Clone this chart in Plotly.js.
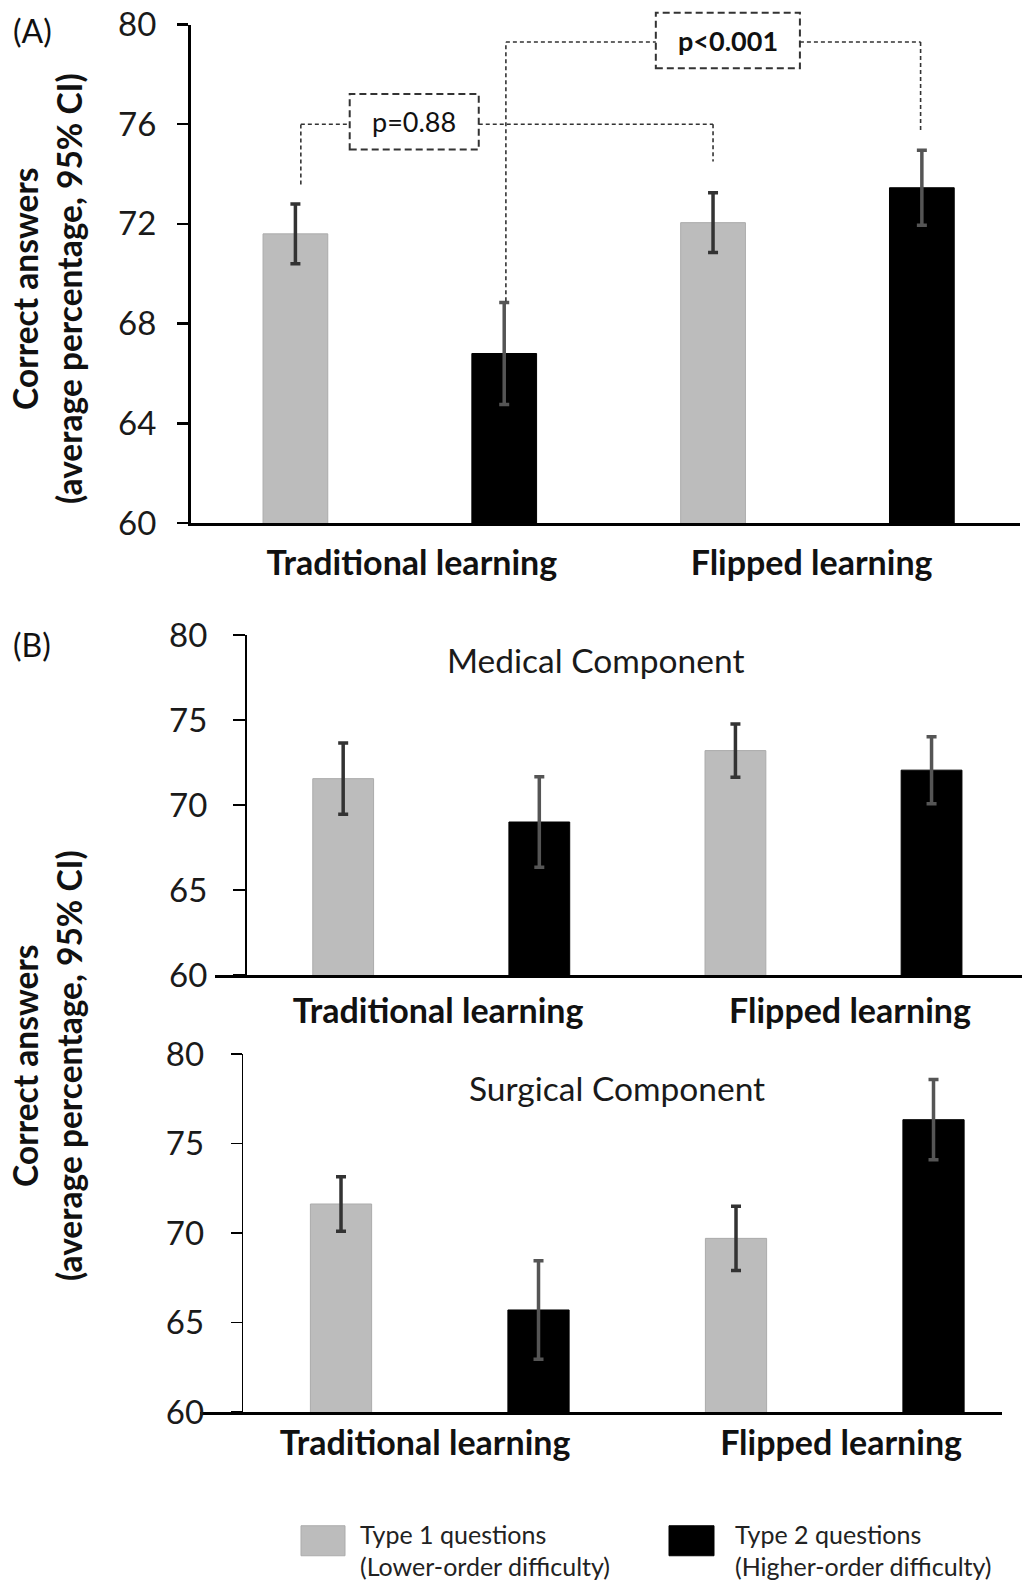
<!DOCTYPE html>
<html>
<head>
<meta charset="utf-8">
<script src="https://cdn.plot.ly/plotly-3.0.1.min.js"></script>
<style>
  html, body { margin: 0; padding: 0; background: #fff; }
  #chart { width: 1024px; height: 1589px; }
</style>
</head>
<body>
<div id="chart"></div>
<script>
// ---------------- data ----------------
const categories = ['Traditional learning', 'Flipped learning'];
const seriesNames = ['Type 1 questions<br>(Lower-order difficulty)', 'Type 2 questions<br>(Higher-order difficulty)'];

// Panel A: overall
const type1Overall = [71.6, 72.05];
const type1OverallCI = [1.2, 1.2];
const type2Overall = [66.8, 73.45];
const type2OverallCI = [2.05, 1.5];

// Panel B: medical component
const type1Medical = [71.55, 73.2];
const type1MedicalCI = [2.1, 1.57];
const type2Medical = [69.0, 72.05];
const type2MedicalCI = [2.66, 1.97];

// Panel B: surgical component
const type1Surgical = [71.62, 69.7];
const type1SurgicalCI = [1.52, 1.8];
const type2Surgical = [65.7, 76.33];
const type2SurgicalCI = [2.75, 2.24];

const yTicksA = [60, 64, 68, 72, 76, 80];
const yTicksB = [60, 65, 70, 75, 80];
const pValues = ['p=0.88', 'p<0.001'];
const panelLabels = ['(A)', '(B)'];
const componentTitles = ['Medical Component', 'Surgical Component'];
const yTitle = 'Correct answers<br>(average percentage, 95% CI)';

// ---------------- helpers ----------------
const W = 1024, H = 1589;
const px = v => v / W;            // pixel x -> paper
const py = v => 1 - v / H;        // pixel y -> paper

const FONT = 'Lato, "Open Sans", sans-serif';
const GRAY = '#bcbcbc';
const BLACK = '#000000';

function barTrace(y, ci, idx, xa, ya, showlegend) {
  return {
    type: 'bar',
    x: categories,
    y: y,
    name: seriesNames[idx],
    legendgroup: 't' + idx,
    legend: idx === 0 ? 'legend' : 'legend2',
    showlegend: showlegend,
    xaxis: xa, yaxis: ya,
    marker: {
      color: idx === 0 ? GRAY : BLACK,
      line: { color: idx === 0 ? '#ababab' : BLACK, width: 1 }
    },
    error_y: {
      type: 'data', array: ci, visible: true,
      color: idx === 0 ? '#333333' : '#555555',
      thickness: 3.5, width: 5
    },
    hoverinfo: 'skip'
  };
}

const traces = [
  barTrace(type1Overall, type1OverallCI, 0, 'x', 'y', true),
  barTrace(type2Overall, type2OverallCI, 1, 'x', 'y', true),
  barTrace(type1Medical, type1MedicalCI, 0, 'x2', 'y2', false),
  barTrace(type2Medical, type2MedicalCI, 1, 'x2', 'y2', false),
  barTrace(type1Surgical, type1SurgicalCI, 0, 'x3', 'y3', false),
  barTrace(type2Surgical, type2SurgicalCI, 1, 'x3', 'y3', false)
];

const tickFont = { family: FONT, size: 33, color: '#1a1a1a' };
const catFont = { family: FONT, size: 34, color: '#111', weight: 700 };

// label placement: small per-panel nudges of the category labels (as in the reference)
function xAxis(domain, anchor, range, lw, standoff, nudges) {
  return {
    domain: domain, anchor: anchor, type: 'category', range: range,
    tickmode: 'array', tickvals: categories.map((c, i) => i + nudges[i]), ticktext: categories,
    showline: true, linecolor: '#000', linewidth: lw,
    ticks: '', showgrid: false, zeroline: false,
    tickfont: catFont, ticklabelstandoff: standoff, automargin: false, fixedrange: true
  };
}
function yAxis(domain, ticks, lw, tw, tl, standoff, extra) {
  return Object.assign({
    domain: domain, range: [60, 80], tickmode: 'array', tickvals: ticks,
    showline: true, linecolor: '#000', linewidth: lw,
    ticks: 'outside', ticklen: tl, tickwidth: tw, tickcolor: '#000',
    showgrid: false, zeroline: false,
    tickfont: tickFont, ticklabelstandoff: standoff, automargin: false, fixedrange: true
  }, extra || {});
}
function legendBox(xPix) {
  return {
    orientation: 'h', x: px(xPix), y: 0, xanchor: 'left', yanchor: 'bottom',
    itemwidth: 74, valign: 'top',
    font: { family: FONT, size: 25, color: '#222' },
    bgcolor: 'rgba(0,0,0,0)', itemclick: false, itemdoubleclick: false
  };
}

// ---------------- significance brackets (panel A) ----------------
const dashLine = { color: '#333', width: 1.6, dash: '4px,3px' };
const dashBox = { color: '#333', width: 2, dash: '7px,4px' };
const lvl1 = 76.0, lvl2 = 79.3;
const t1L = 0 - 0.237, t1R = 1 - 0.25;   // type1 bars
const t2L = 0 + 0.254, t2R = 1 + 0.247;  // type2 bars
const box1 = { x0: -0.12, x1: 0.189, y0: 74.98, y1: 77.21 };
const box2 = { x0: 0.613, x1: 0.958, y0: 0.912, y1: 1.0237 };
function seg(x0, y0, x1, y1) {
  return { type: 'line', xref: 'x', yref: 'y', x0, y0, x1, y1, line: dashLine };
}
const shapes = [
  seg(t1L, type1Overall[0] + type1OverallCI[0] + 0.78, t1L, lvl1),
  seg(t1L, lvl1, box1.x0, lvl1),
  { type: 'rect', xref: 'x', yref: 'y', x0: box1.x0, x1: box1.x1, y0: box1.y0, y1: box1.y1, line: dashBox, fillcolor: 'rgba(0,0,0,0)' },
  seg(box1.x1, lvl1, t1R, lvl1),
  seg(t1R, lvl1, t1R, type1Overall[1] + type1OverallCI[1] + 1.25),

  seg(t2L, type2Overall[0] + type2OverallCI[0] + 0.05, t2L, lvl2),
  seg(t2L, lvl2, box2.x0, lvl2),
  { type: 'rect', xref: 'x', yref: 'y domain', x0: box2.x0, x1: box2.x1, y0: box2.y0, y1: box2.y1, line: dashBox, fillcolor: 'rgba(0,0,0,0)' },
  seg(box2.x1, lvl2, t2R, lvl2),
  seg(t2R, lvl2, t2R, type2Overall[1] + type2OverallCI[1] + 0.8)
];

const annotations = [
  { xref: 'x', yref: 'y', x: (box1.x0 + box1.x1) / 2, y: (box1.y0 + box1.y1) / 2, text: pValues[0],
    showarrow: false, font: { family: FONT, size: 27, color: '#111' }, xanchor: 'center', yanchor: 'middle' },
  { xref: 'x', yref: 'y domain', x: (box2.x0 + box2.x1) / 2, y: (box2.y0 + box2.y1) / 2, text: pValues[1],
    showarrow: false, font: { family: FONT, size: 27, color: '#111', weight: 700 }, xanchor: 'center', yanchor: 'middle' },

  { xref: 'paper', yref: 'paper', x: px(11), y: py(31), text: panelLabels[0], showarrow: false,
    xanchor: 'left', yanchor: 'middle', font: { family: FONT, size: 32, color: '#111' } },
  { xref: 'paper', yref: 'paper', x: px(11), y: py(644), text: panelLabels[1], showarrow: false,
    xanchor: 'left', yanchor: 'middle', font: { family: FONT, size: 32, color: '#111' } },

  { xref: 'paper', yref: 'paper', x: px(595), y: py(660), text: componentTitles[0], showarrow: false,
    xanchor: 'center', yanchor: 'middle', font: { family: FONT, size: 33.5, color: '#1a1a1a' } },
  { xref: 'paper', yref: 'paper', x: px(617), y: py(1088), text: componentTitles[1], showarrow: false,
    xanchor: 'center', yanchor: 'middle', font: { family: FONT, size: 33.5, color: '#1a1a1a' } },

  { xref: 'paper', yref: 'paper', x: px(47), y: py(289), text: yTitle, textangle: -90, showarrow: false,
    xanchor: 'center', yanchor: 'middle', font: { family: FONT, size: 33.5, color: '#111', weight: 700 } },
  { xref: 'paper', yref: 'paper', x: px(47), y: py(1066), text: yTitle, textangle: -90, showarrow: false,
    xanchor: 'center', yanchor: 'middle', font: { family: FONT, size: 33.5, color: '#111', weight: 700 } }
];

const layout = {
  width: W, height: H,
  margin: { l: 0, r: 0, t: 0, b: 0 },
  paper_bgcolor: '#ffffff', plot_bgcolor: 'rgba(0,0,0,0)',
  barmode: 'group', bargap: 0, bargroupgap: 0.69,
  font: { family: FONT, color: '#111' },
  showlegend: true,
  legend: legendBox(276),
  legend2: legendBox(651),
  // Panel A
  xaxis: xAxis([px(191), px(1020)], 'y', [-0.5, 1.485], 3, 8, [0.029, -0.014]),
  yaxis: yAxis([py(523), py(24.5)], yTicksA, 3, 2.5, 11, 14, { anchor: 'x' }),
  // Panel B medical
  xaxis2: xAxis([px(215), px(1022)], 'y2', [-0.5768, 1.4806], 2.5, 5, [-0.008, 0.042]),
  yaxis2: yAxis([py(975), py(635)], yTicksB, 1.6, 1.6, 12, 19, { anchor: 'free', position: px(245) }),
  // Panel B surgical
  xaxis3: xAxis([px(200), px(1002)], 'y3', [-0.607, 1.4234], 2.5, 0, [-0.037, 0.016]),
  yaxis3: yAxis([py(1412), py(1054)], yTicksB, 1.6, 1.6, 11, 20, { anchor: 'free', position: px(241.7) }),
  shapes: shapes,
  annotations: annotations
};

Plotly.newPlot('chart', traces, layout, { staticPlot: true, displayModeBar: false }).then(function () {
  // enlarge legend swatches to match the reference's rectangular keys
  const keys = { legend: 'M27,22H-17V-8H27Z', legend2: 'M21,22H-24V-8H21Z' };
  Object.keys(keys).forEach(function (cls) {
    document.querySelectorAll('.' + cls + ' .legendpoints path').forEach(function (p) {
      p.setAttribute('d', keys[cls]);
    });
  });
});
</script>
</body>
</html>
